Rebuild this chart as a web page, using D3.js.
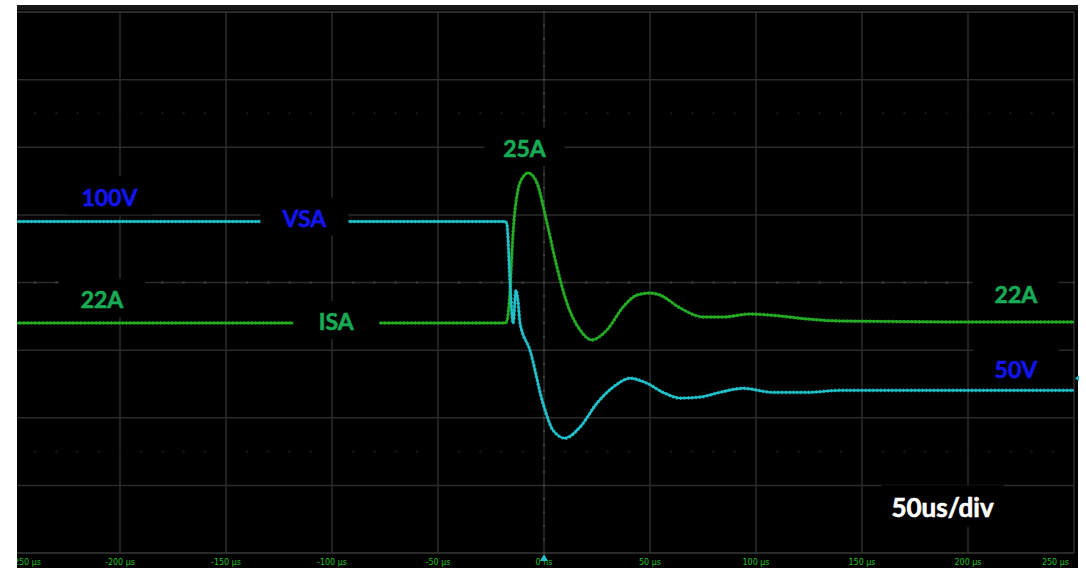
<!DOCTYPE html>
<html>
<head>
<meta charset="utf-8">
<script src="https://cdn.jsdelivr.net/npm/d3@7"></script>
<style>
    body { margin: 0; background: #fff; }
    svg { display: block; }
</style>
</head>
<body>
<div id="chart"></div>
<script>
// Scope capture: VSA / ISA step response, 50us/div

const timeTicks = [-250, -200, -150, -100, -50, 0, 50, 100, 150, 200, 250];
const tickLabels = ['-250 µs', '-200 µs', '-150 µs', '-100 µs', '-50 µs', '0 ns',
    '50 µs', '100 µs', '150 µs', '200 µs', '250 µs'];
const divisions = [-4, -3, -2, -1, 0, 1, 2, 3, 4];

// VSA trace (µs, V)
const vsaTime = [-260, -18.4, -17.5, -16.0, -14.6, -13.2, -12.3, -11.3, -6.6, -0.5, 4.2, 9.9,
    17.0, 25.0, 32.5, 40.6, 48.6, 56.1, 64.2, 73.6, 83.0, 93.9, 108.0, 124.1, 139.6, 200, 250];
const vsaVolts = [100, 100, 99.3, 81.7, 69.8, 79.6, 76.6, 69.8, 61.8, 46.1, 38.1, 35.7,
    39.0, 46.1, 50.8, 53.5, 52.0, 49.3, 47.6, 47.9, 49.3, 50.5, 49.3, 49.3, 49.9, 49.9, 49.9];

// ISA trace (µs, A)
const isaTime = [-260, -18.4, -17.5, -16.0, -14.6, -12.3, -9.9, -7.5, -5.2, -3.3, 1.4, 6.1,
    10.8, 17.0, 22.6, 29.7, 37.3, 43.9, 50.0, 54.7, 64.2, 75.0, 84.4, 97.2, 111.3, 124.1,
    139.6, 200, 250];
const isaAmps = [22.0, 22.0, 22.04, 22.66, 23.8, 24.66, 24.92, 25.0, 24.94, 24.8, 24.0, 23.12,
    22.4, 21.86, 21.66, 21.86, 22.32, 22.56, 22.6, 22.56, 22.3, 22.12, 22.12, 22.18, 22.14, 22.08,
    22.04, 22.02, 22.02];

const W = 1086, H = 568;
const panel = { left: 17, top: 5, right: 1078, bottom: 568 };

const xScale = d3.scaleLinear().domain([-250, 250]).range([14, 1074]);
const yDiv = d3.scaleLinear().domain([-4, 4]).range([553, 12]);
const vScale = d3.scaleLinear().domain([0, 100]).range([558.5, 221.5]);
const iScale = d3.scaleLinear().domain([22, 25]).range([323, 173]);

const cyan = '#22c2cc';
const traceGreen = '#25ad25';
const labelGreen = '#17ab55';
const labelBlue = '#1414ee';

const svg = d3.select('#chart').append('svg')
    .attr('width', W)
    .attr('height', H);

svg.append('defs').append('clipPath')
    .attr('id', 'panelClip')
    .append('rect')
    .attr('x', panel.left)
    .attr('y', panel.top)
    .attr('width', panel.right - panel.left)
    .attr('height', panel.bottom - panel.top);

const g = svg.append('g').attr('clip-path', 'url(#panelClip)');

g.append('rect')
    .attr('x', panel.left)
    .attr('y', panel.top)
    .attr('width', panel.right - panel.left)
    .attr('height', panel.bottom - panel.top)
    .style('fill', '#000');

g.append('rect')
    .attr('x', panel.left)
    .attr('y', panel.top)
    .attr('width', panel.right - panel.left)
    .attr('height', 5)
    .style('fill', '#161616');

// Grid
g.selectAll('.vgrid')
    .data(timeTicks)
    .enter().append('line')
    .attr('x1', d => xScale(d))
    .attr('x2', d => xScale(d))
    .attr('y1', yDiv(4))
    .attr('y2', yDiv(-4))
    .style('stroke', '#2b2b2b')
    .style('stroke-width', 1.5);

g.selectAll('.hgrid')
    .data(divisions)
    .enter().append('line')
    .attr('x1', xScale(-250))
    .attr('x2', xScale(250))
    .attr('y1', d => yDiv(d))
    .attr('y2', d => yDiv(d))
    .style('stroke', d => (d === 4 || d === -4) ? '#383838' : '#2b2b2b')
    .style('stroke-width', 1.5);

// Minor dots along the center axes
const minorX = d3.range(-250, 250.1, 10);
[0, 2.5, -2.5].forEach(row => {
    g.selectAll(null)
        .data(minorX)
        .enter().append('rect')
        .attr('x', d => xScale(d) - 1)
        .attr('y', yDiv(row) - 1)
        .attr('width', 2)
        .attr('height', 2)
        .style('fill', row === 0 ? '#444' : '#1c1c1c');
});
g.selectAll(null)
    .data(d3.range(-4, 4.01, 0.2))
    .enter().append('rect')
    .attr('x', xScale(0) - 1)
    .attr('y', d => yDiv(d) - 1)
    .attr('width', 2)
    .attr('height', 2)
    .style('fill', '#444');

// Traces
const vsaLine = d3.line()
    .x((d, i) => xScale(vsaTime[i]))
    .y(d => vScale(d))
    .curve(d3.curveMonotoneX);

const isaLine = d3.line()
    .x((d, i) => xScale(isaTime[i]))
    .y(d => iScale(d))
    .curve(d3.curveMonotoneX);

function drawTrace(line, values, color) {
    g.append('path')
        .datum(values)
        .attr('d', line)
        .style('fill', 'none')
        .style('stroke', color)
        .style('stroke-width', 2.4);
    g.append('path')
        .datum(values)
        .attr('d', line)
        .style('fill', 'none')
        .style('stroke', color)
        .style('stroke-width', 3.6)
        .style('stroke-dasharray', '1.4,2.4')
        .style('opacity', 0.8);
}

drawTrace(isaLine, isaAmps, traceGreen);
drawTrace(vsaLine, vsaVolts, cyan);

// Bottom time axis labels (edge labels kept inside the screen)
g.selectAll('.tick-label')
    .data(timeTicks)
    .enter().append('text')
    .attr('x', (d, i) => i === 0 ? xScale(d) - 3 : i === timeTicks.length - 1 ? xScale(d) - 5 : xScale(d))
    .attr('y', 565)
    .attr('text-anchor', (d, i) => i === 0 ? 'start' : i === timeTicks.length - 1 ? 'end' : 'middle')
    .style('font-family', 'DejaVu Sans, sans-serif')
    .style('font-size', '8px')
    .style('fill', '#22c022')
    .text((d, i) => tickLabels[i]);

// Trigger and level markers
g.append('path')
    .attr('d', `M${xScale(0) - 4},561 L${xScale(0) + 4},561 L${xScale(0)},554 Z`)
    .style('fill', cyan);

svg.append('path')
    .attr('d', `M${panel.right + 1},${vScale(53.5) - 3} L${panel.right + 1},${vScale(53.5) + 3} L${panel.right - 3},${vScale(53.5)} Z`)
    .style('fill', cyan);

// Annotation labels with black boxes behind them
function addLabel(text, t, baseline, color, size, boxWidth) {
    const lg = g.append('g');
    const box = lg.append('rect').style('fill', '#000');
    const label = lg.append('text')
        .attr('x', xScale(t))
        .attr('y', baseline)
        .attr('text-anchor', 'middle')
        .style('font-family', 'Lato, sans-serif')
        .style('font-weight', 700)
        .style('font-size', size + 'px')
        .style('fill', color)
        .style('stroke', color)
        .style('stroke-width', 0.6)
        .text(text);
    const bb = label.node().getBBox();
    box.attr('x', xScale(t) - boxWidth / 2)
        .attr('y', bb.y - 6)
        .attr('width', boxWidth)
        .attr('height', bb.height + 10);
}

addLabel('100V', -205, vScale(100) - 16, labelBlue, 23, 86);
addLabel('VSA', -113, vScale(100) + 5, labelBlue, 23, 88);
addLabel('22A', -208.5, iScale(22) - 15, labelGreen, 23, 86);
addLabel('ISA', -98, iScale(22) + 7, labelGreen, 23, 86);
addLabel('25A', -9.2, iScale(25) - 16, labelGreen, 23, 80);
addLabel('22A', 222.6, iScale(22) - 20, labelGreen, 23, 86);
addLabel('50V', 222.6, vScale(50) - 12, labelBlue, 23, 86);
addLabel('50us/div', 188, yDiv(-3.5) - 2, '#ffffff', 26, 123);
</script>
</body>
</html>
